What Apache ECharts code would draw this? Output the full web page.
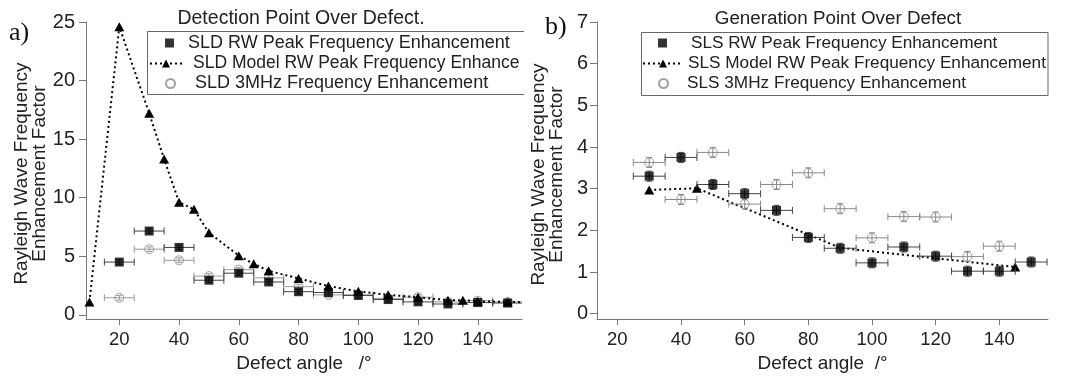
<!DOCTYPE html>
<html>
<head>
<meta charset="utf-8">
<script src="https://cdn.jsdelivr.net/npm/echarts@6/dist/echarts.min.js"></script>
<style>
html,body{margin:0;padding:0;background:#fff;}
#c{width:1067px;height:378px;}
</style>
</head>
<body>
<div id="c"></div>
<script>
// ---------- Data: panel a) Detection point over defect ----------
const sldX      = [20, 30, 40, 50, 60, 70, 80, 90, 100, 110, 120, 130, 140, 150];
const sldRW     = [4.5, 7.15, 5.75, 2.95, 3.55, 2.8, 1.97, 1.9, 1.65, 1.3, 1.1, 0.92, 1.04, 1.0];
const sldRWxErr = [5, 5, 5, 5, 5, 5, 5, 5, 5, 5, 5, 5, 5, 5];
const sldRWyErr = [0.2, 0.2, 0.2, 0.2, 0.2, 0.2, 0.2, 0.2, 0.2, 0.2, 0.2, 0.2, 0.2, 0.2];
const sld3M     = [1.45, 5.6, 4.65, 3.3, 3.85, 3.15, 2.4, 1.7, 1.7, 1.4, 1.5, 1.1, 1.2, 1.1];
const sld3MxErr = [5, 5, 5, 5, 5, 5, 5, 5, 5, 5, 5, 5, 5, 5];
const sld3MyErr = [0.2, 0.2, 0.2, 0.2, 0.2, 0.2, 0.2, 0.2, 0.2, 0.2, 0.2, 0.2, 0.2, 0.2];
const sldModelX = [10, 20, 30, 35, 40, 45, 50, 60, 65, 70, 80, 90, 100, 110, 120, 130, 135, 140, 150, 160];
const sldModelY = [1.1, 24.6, 17.2, 13.3, 9.6, 9.0, 7.0, 5.05, 4.35, 3.75, 3.1, 2.45, 2.0, 1.7, 1.5, 1.25, 1.25, 1.15, 1.1, 1.05];

// ---------- Data: panel b) Generation point over defect ----------
const slsX      = [30, 40, 50, 60, 70, 80, 90, 100, 110, 120, 130, 140, 150];
const slsRW     = [3.3, 3.75, 3.1, 2.88, 2.48, 1.83, 1.57, 1.22, 1.6, 1.38, 1.02, 1.02, 1.24];
const slsRWxErr = [5, 5, 5, 5, 5, 5, 5, 5, 5, 5, 5, 5, 5];
const slsRWyErr = [0.12, 0.12, 0.12, 0.12, 0.12, 0.12, 0.12, 0.12, 0.12, 0.12, 0.12, 0.12, 0.12];
const sls3MX    = [30, 40, 50, 60, 70, 80, 90, 100, 110, 120, 130, 140];
const sls3M     = [3.63, 2.74, 3.87, 2.63, 3.1, 3.38, 2.52, 1.82, 2.33, 2.32, 1.37, 1.62];
const sls3MxErr = [5, 5, 5, 5, 5, 5, 5, 5, 5, 5, 5, 5];
const sls3MyErr = [0.12, 0.12, 0.12, 0.12, 0.12, 0.12, 0.12, 0.12, 0.12, 0.12, 0.12, 0.12];
const slsModelX = [30, 45, 90, 145];
const slsModelY = [2.97, 3.01, 1.58, 1.12];
const slsModelMarked = [true, true, false, true];

// ---------- Labels ----------
const xTicks  = [20, 40, 60, 80, 100, 120, 140];
const yTicksA = [0, 5, 10, 15, 20, 25];
const yTicksB = [0, 1, 2, 3, 4, 5, 6, 7];
const titleA = 'Detection Point Over Defect.';
const titleB = 'Generation Point Over Defect';
const xName = 'Defect angle   /°';
const xNameB = 'Defect angle  /°';
const yName = 'Rayleigh Wave Frequency\nEnhancement Factor';
const namesA = ['SLD RW Peak Frequency Enhancement', 'SLD Model RW Peak Frequency Enhancement', 'SLD 3MHz Frequency Enhancement'];
const namesB = ['SLS RW Peak Frequency Enhancement', 'SLS Model RW Peak Frequency Enhancement', 'SLS 3MHz Frequency Enhancement'];

const FONT = '"Liberation Sans", Arial, Helvetica, sans-serif';
const AX = '#777';
const TXT = '#222';

function pts(xs, ys) { return xs.map((x, i) => [x, ys[i]]); }
function errPts(xs, ys, xe, ye) { return xs.map((x, i) => [x, ys[i], xe[i], ye[i]]); }

function errRender(color) {
  return function (params, api) {
    const x = api.value(0), y = api.value(1), xe = api.value(2), ye = api.value(3);
    const l = api.coord([x - xe, y]), r = api.coord([x + xe, y]);
    const t = api.coord([x, y + ye]), b = api.coord([x, y - ye]);
    const cap = 3.5;
    const st = { stroke: color, lineWidth: 1 };
    return {
      type: 'group',
      children: [
        { type: 'line', shape: { x1: l[0], y1: l[1], x2: r[0], y2: r[1] }, style: st },
        { type: 'line', shape: { x1: l[0], y1: l[1] - cap, x2: l[0], y2: l[1] + cap }, style: st },
        { type: 'line', shape: { x1: r[0], y1: r[1] - cap, x2: r[0], y2: r[1] + cap }, style: st },
        { type: 'line', shape: { x1: t[0], y1: t[1], x2: b[0], y2: b[1] }, style: st },
        { type: 'line', shape: { x1: t[0] - 3, y1: t[1], x2: t[0] + 3, y2: t[1] }, style: st },
        { type: 'line', shape: { x1: b[0] - 3, y1: b[1], x2: b[0] + 3, y2: b[1] }, style: st }
      ]
    };
  };
}

function xAxisCfg(idx, min, max, name, gap) {
  return {
    gridIndex: idx, type: 'value', min: min, max: max,
    name: name, nameLocation: 'middle', nameGap: gap,
    nameTextStyle: { fontFamily: FONT, fontSize: 19, color: TXT },
    axisLine: { show: true, onZero: false, lineStyle: { color: AX, width: 1 } },
    axisTick: { show: true, inside: false, length: 6, lineStyle: { color: AX }, customValues: xTicks },
    axisLabel: { fontFamily: FONT, fontSize: 18.5, color: TXT, margin: 11, customValues: xTicks },
    splitLine: { show: false }
  };
}
function yAxisCfg(idx, min, max, ticks, gap, lblMargin, shift) {
  return {
    gridIndex: idx, type: 'value', min: min, max: max,
    name: yName, nameLocation: 'middle', nameGap: gap, nameRotate: 90,
    nameTextStyle: { fontFamily: FONT, fontSize: 19, color: TXT, lineHeight: 18, padding: [0, shift, 0, 0] },
    axisLine: { show: true, onZero: false, lineStyle: { color: AX, width: 1 } },
    axisTick: { show: true, inside: false, length: 7, lineStyle: { color: AX }, customValues: ticks },
    axisLabel: { fontFamily: FONT, fontSize: 20, color: TXT, margin: lblMargin, customValues: ticks },
    splitLine: { show: false }
  };
}

function legendRow(name, left, top, w, h, padLeft, fs, extra) {
  return {
    data: [name], left: left, top: top, orient: 'horizontal', padding: 0,
    itemWidth: w, itemHeight: h, itemGap: 0, selectedMode: false,
    textStyle: Object.assign({ fontFamily: FONT, fontSize: fs, color: TXT, lineHeight: 20, padding: [0, 0, 0, padLeft] }, extra || {})
  };
}

const circleStyle = { color: 'rgba(0,0,0,0)', borderColor: '#8a8a8a', borderWidth: 1 };

const option = {
  animation: false,
  backgroundColor: '#fff',
  title: [
    { text: titleA, left: 301, top: 9, textAlign: 'center', padding: 0,
      textStyle: { fontFamily: FONT, fontSize: 19.5, fontWeight: 'normal', color: TXT } },
    { text: titleB, left: 838, top: 9, textAlign: 'center', padding: 0,
      textStyle: { fontFamily: FONT, fontSize: 18.8, fontWeight: 'normal', color: TXT } }
  ],
  grid: [
    { left: 86, top: 22, width: 436, height: 301, containLabel: false },
    { left: 597, top: 22, width: 451, height: 300.5, containLabel: false }
  ],
  xAxis: [
    xAxisCfg(0, 8.85, 154.8, xName, 31),
    xAxisCfg(1, 13.6, 155.3, xNameB, 31)
  ],
  yAxis: [
    yAxisCfg(0, -0.37, 25, yTicksA, 34, 11, 6),
    yAxisCfg(1, -0.13, 7, yTicksB, 31, 9, 8)
  ],
  legend: [
    legendRow(namesA[0], 165, 33, 9, 9, 9, 18),
    legendRow(namesA[1], 149, 53.5, 32, 10, 6, 17.5, { width: 338, overflow: 'truncate', ellipsis: '' }),
    legendRow(namesA[2], 165, 73.5, 9, 9, 15, 18),
    legendRow(namesB[0], 658, 33, 9, 9, 19, 17.2),
    legendRow(namesB[1], 642, 53.5, 40, 10, 0, 17.2),
    legendRow(namesB[2], 658, 73.5, 9, 9, 14, 17.2)
  ],
  graphic: [
    { type: 'text', left: 9, top: 20, style: { text: 'a)', font: '26px "Liberation Serif", "Times New Roman", serif', fill: '#111' } },
    { type: 'text', left: 545, top: 14, style: { text: 'b)', font: '26px "Liberation Serif", "Times New Roman", serif', fill: '#111' } },
    { type: 'polyline', shape: { points: [[524, 31.5], [147.5, 31.5], [147.5, 94.5], [524, 94.5]] }, style: { stroke: '#666', lineWidth: 1, fill: null }, z: 5 },
    { type: 'rect', shape: { x: 641.5, y: 32.5, width: 406.5, height: 63 }, style: { stroke: '#666', lineWidth: 1, fill: null }, z: 5 }
  ],
  series: [
    // ---- panel a
    { type: 'custom', name: 'errA3M', xAxisIndex: 0, yAxisIndex: 0, clip: true,
      renderItem: errRender('#9a9a9a'), encode: { x: 0, y: 1 },
      data: errPts(sldX, sld3M, sld3MxErr, sld3MyErr), z: 2 },
    { type: 'scatter', name: namesA[2], xAxisIndex: 0, yAxisIndex: 0, symbol: 'circle', symbolSize: 9,
      itemStyle: circleStyle, data: pts(sldX, sld3M), z: 3 },
    { type: 'custom', name: 'errARW', xAxisIndex: 0, yAxisIndex: 0, clip: true,
      renderItem: errRender('#444'), encode: { x: 0, y: 1 },
      data: errPts(sldX, sldRW, sldRWxErr, sldRWyErr), z: 4 },
    { type: 'scatter', name: namesA[0], xAxisIndex: 0, yAxisIndex: 0, symbol: 'rect', symbolSize: 9,
      itemStyle: { color: '#000' }, data: pts(sldX, sldRW), z: 5 },
    { type: 'line', name: namesA[1], xAxisIndex: 0, yAxisIndex: 0, symbol: 'triangle', symbolSize: [10, 9],
      showAllSymbol: true, clip: true,
      itemStyle: { color: '#000' }, lineStyle: { color: '#000', width: 2, type: [2, 3] },
      data: pts(sldModelX, sldModelY), z: 6 },
    // ---- panel b
    { type: 'line', name: namesB[1], xAxisIndex: 1, yAxisIndex: 1, symbol: 'triangle', symbolSize: [10, 9],
      showAllSymbol: true, clip: true,
      itemStyle: { color: '#000' }, lineStyle: { color: '#000', width: 2, type: [2, 3] },
      data: slsModelX.map((x, i) => slsModelMarked[i] ? [x, slsModelY[i]] : { value: [x, slsModelY[i]], symbol: 'none' }), z: 2 },
    { type: 'custom', name: 'errB3M', xAxisIndex: 1, yAxisIndex: 1, clip: true,
      renderItem: errRender('#8a8a8a'), encode: { x: 0, y: 1 },
      data: errPts(sls3MX, sls3M, sls3MxErr, sls3MyErr), z: 3 },
    { type: 'scatter', name: namesB[2], xAxisIndex: 1, yAxisIndex: 1, symbol: 'circle', symbolSize: 9,
      itemStyle: circleStyle, data: pts(sls3MX, sls3M), z: 4 },
    { type: 'custom', name: 'errBRW', xAxisIndex: 1, yAxisIndex: 1, clip: true,
      renderItem: errRender('#444'), encode: { x: 0, y: 1 },
      data: errPts(slsX, slsRW, slsRWxErr, slsRWyErr), z: 5 },
    { type: 'scatter', name: namesB[0], xAxisIndex: 1, yAxisIndex: 1, symbol: 'rect', symbolSize: 9,
      itemStyle: { color: '#000' }, data: pts(slsX, slsRW), z: 6 }
  ]
};

const chart = echarts.init(document.getElementById('c'), null, { renderer: 'canvas' });
chart.setOption(option);
</script>
</body>
</html>
